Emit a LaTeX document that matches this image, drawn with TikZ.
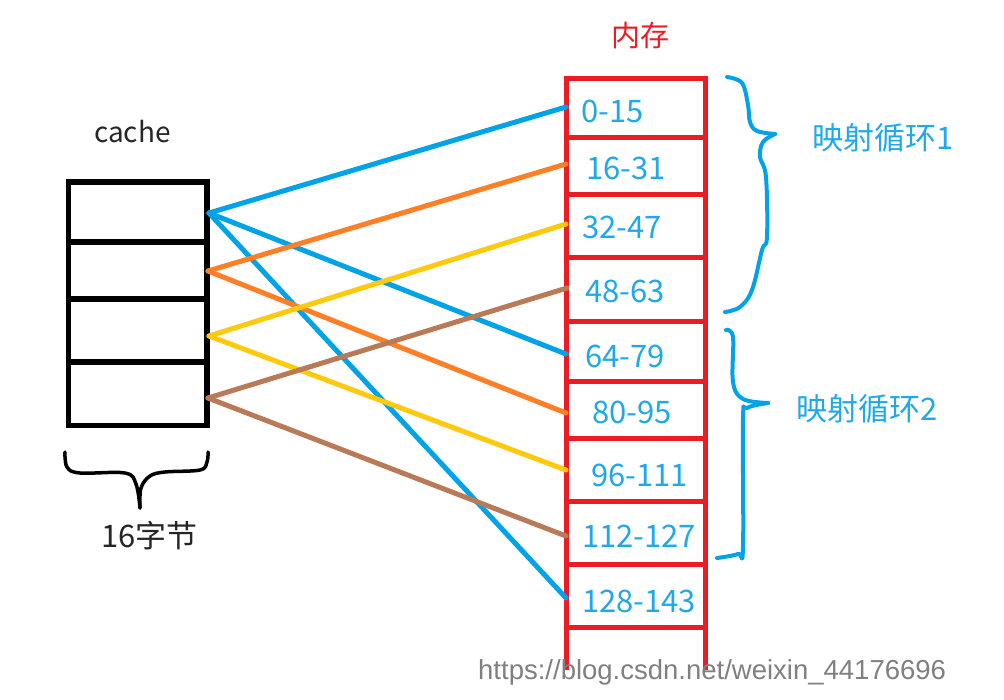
\documentclass[tikz,border=0pt]{standalone}
\usepackage{fontspec}
\newfontfamily\cjk{Noto Sans CJK SC}
\newfontfamily\wmfont{Liberation Sans}
\definecolor{pblue}{HTML}{00A2E8}
\definecolor{tblue}{HTML}{1FA8EA}
\definecolor{porange}{HTML}{FF7F27}
\definecolor{pyellow}{HTML}{FFC90E}
\definecolor{pbrown}{HTML}{B97A57}
\definecolor{pred}{HTML}{ED1C24}
\definecolor{wmgray}{HTML}{808080}
\begin{document}
\begin{tikzpicture}[x=1pt,y=-1pt,
  link/.style={line width=5pt, line cap=round},
  cacheline/.style={black, line width=5.5pt},
  memline/.style={pred, line width=5pt},
  bluebrace/.style={pblue, line width=4pt, line cap=round, line join=round},
  blackbrace/.style={black, line width=3.5pt, line cap=round, line join=round},
  lbl/.style={anchor=base west, inner sep=0pt, text=tblue, font=\cjk\fontsize{31}{31}\selectfont},
  blk/.style={anchor=base west, inner sep=0pt, text=black!85, font=\cjk\fontsize{31}{31}\selectfont}]
\useasboundingbox (0,0) rectangle (1004,699);
\fill[white] (0,0) rectangle (1004,699);

% cache box
\draw[cacheline] (68.5,182) rectangle (207,425.5);
\draw[cacheline] (68.5,242) -- (207,242);
\draw[cacheline] (68.5,299) -- (207,299);
\draw[cacheline] (68.5,362) -- (207,362);

% memory column
\draw[memline] (566.5,670) -- (566.5,78) -- (705.5,78) -- (705.5,670);
\foreach \yy in {137.5,194.5,257.5,321.5,381.5,438.5,501.5,564.5,627.5}
  \draw[memline] (566.5,\yy) -- (705.5,\yy);

% anchor coordinates
\coordinate (c1) at (209,213);
\coordinate (c2) at (208,271);
\coordinate (c3) at (209,336);
\coordinate (c4) at (208,398);
\coordinate (m0) at (566,107);
\coordinate (m1) at (566,164);
\coordinate (m2) at (566,224);
\coordinate (m3) at (567,288);
\coordinate (m4) at (566,354);
\coordinate (m5) at (566,413);
\coordinate (m6) at (566,470);
\coordinate (m7) at (566,536);
\coordinate (m8) at (566,598);

% links
\draw[link,pblue] (c1) -- (m0);
\draw[link,pblue] (c1) -- (m4);
\draw[link,pblue] (c1) -- (m8);
\draw[link,porange] (c2) -- (m1);
\draw[link,porange] (c2) -- (m5);
\draw[link,pyellow] (c3) -- (m2);
\draw[link,pyellow] (c3) -- (m6);
\draw[link,pbrown] (c4) -- (m3);
\draw[link,pbrown] (c4) -- (m7);

% memory labels
\node[lbl] (l0) at (581,122) {0-15};
\node[lbl] (l1) at (586,179) {16-31};
\node[lbl] (l2) at (582,238) {32-47};
\node[lbl] (l3) at (585,302) {48-63};
\node[lbl] (l4) at (585,367) {64-79};
\node[lbl] (l5) at (592,423) {80-95};
\node[lbl] (l6) at (591,486) {96-111};
\node[lbl] (l7) at (582,547) {112-127};
\node[lbl] (l8) at (582,612) {128-143};

% titles
\node[anchor=base west, inner sep=0pt, text=pred, font=\cjk\fontsize{29}{29}\selectfont] (mem) at (611,46) {内存};
\node[anchor=base west, inner sep=0pt, text=black!85, font=\cjk\fontsize{28}{28}\selectfont] (cache) at (94,142) {cache};
\node[blk] (bytes) at (101,547) {16字节};
\node[lbl] (loop1) at (812,149) {映射循环1};
\node[lbl] (loop2) at (796,420) {映射循环2};

% braces
\draw[bluebrace] plot[smooth, tension=0.6] coordinates {(727,77) (742,83) (748,105) (750,122) (757,131) (775,134)};
\draw[bluebrace] plot[smooth, tension=0.6] coordinates {(775,134) (763,142) (760,157) (766,177) (767,237) (762,250) (752,290) (740,307) (725,312)};
\draw[bluebrace] plot[smooth, tension=0.6] coordinates {(726,330) (733,337) (733,382) (743,399) (768,403)};
\draw[bluebrace] plot[smooth, tension=0.6] coordinates {(768,403) (747,408) (743,420) (743,547) (738,554) (717,558)};
\draw[blackbrace] plot[smooth, tension=0.6] coordinates {(65,452) (67,467) (80,473) (125,473) (136,484) (140,508)};
\draw[blackbrace] plot[smooth, tension=0.6] coordinates {(140,508) (141,488) (150,476) (165,472) (200,470) (207,462) (208,452)};

% watermark
\node[anchor=base west, inner sep=0pt, text=wmgray, font=\wmfont\fontsize{27.5}{27.5}\selectfont] (wm) at (478,679) {https://blog.csdn.net/weixin\_44176696};
\end{tikzpicture}
\end{document}
